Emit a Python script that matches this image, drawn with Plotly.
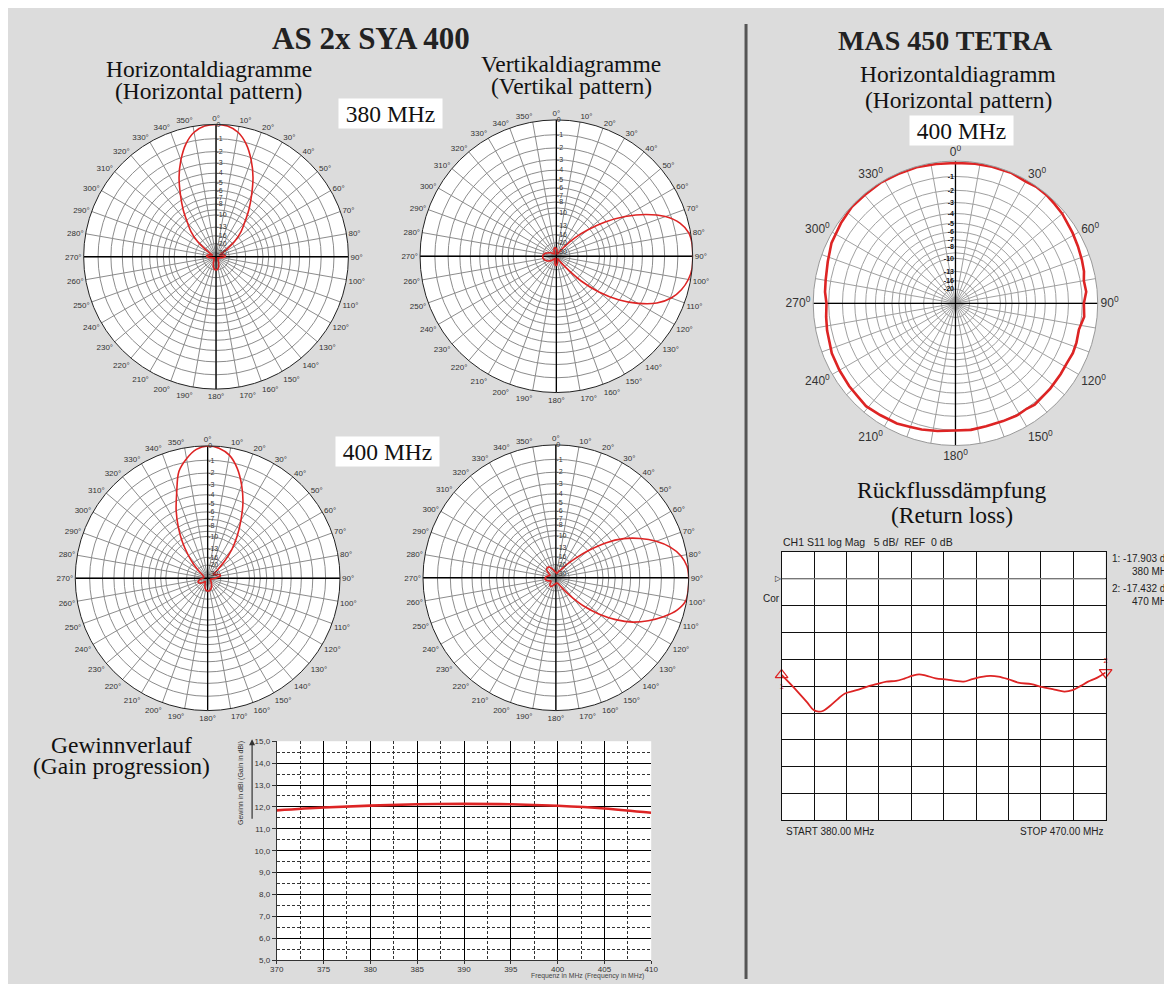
import plotly.graph_objects as go

# the browser body keeps its default 8px margin, so the figure is sized to fit inside it
OFF = 8
W, H = 1172 - 2 * OFF, 992 - 2 * OFF
def px(x): return (x - OFF) / W
def py(y): return 1 - (y - OFF) / H

# ---------------- DATA ----------------
angles = list(range(0, 360, 5))

h380_db = [0, -0.08, -0.4, -1.1, -2.2, -3.6, -5.4, -7.3, -9.5, -11.5, -14.5, -20, -26, -30, -28, -25,
           -23.5, -23, -23.5, -25, -28, -31, -32, -34, -36, -36, -35, -34, -33, -31.5, -30, -27,
           -24.5, -22.5, -21, -20.2, -20, -20.2, -21, -22.5, -24.5, -27, -30, -31.5, -33, -34, -35, -36,
           -36, -34, -32, -31, -28, -25, -23.5, -23, -23.5, -25, -28, -30, -26, -20,
           -14.5, -11.5, -9.5, -7.3, -5.4, -3.6, -2.2, -1.1, -0.4, -0.08]

v380_db = [-25, -27, -30, -33, -35, -34, -31, -27, -20.5, -14.5, -10.5, -7.2, -4.7, -2.8, -1.4, -0.55,
           -0.12, 0, 0, 0, -0.15, -0.45, -0.95, -1.8, -3.2, -5.1, -7.8, -11.8, -19, -27, -32, -34,
           -33, -30, -27, -24.5, -23.5, -23.5, -25, -28, -32, -35, -34, -32, -30, -28, -26, -24.5,
           -23, -22, -21.2, -20.6, -20.2, -20, -20, -20.2, -20.8, -21.6, -23, -24.5, -26, -28,
           -30, -32, -33, -33, -31, -28, -26, -24.5, -24, -24]

h400_db = [0, -0.12, -0.5, -1.3, -2.5, -4.0, -6.0, -8.2, -10.9, -15, -20.5, -25, -26, -24, -21.5, -20.2,
           -20.3, -22, -24.5, -27, -30, -32, -33, -33, -32.5, -31.5, -30.5, -29, -27.5, -26, -24.5, -23,
           -22, -21.2, -20.6, -20.3, -20.3, -20.6, -21.2, -22.5, -24.5, -27, -29, -30, -29.5, -27.5, -25.5, -23.8,
           -22.8, -22.3, -22.3, -23, -24.5, -26.5, -28.5, -30, -31, -31, -30, -29, -28, -25.5,
           -21, -16.5, -12.8, -9.6, -7.1, -5.0, -3.3, -1.55, -0.75, -0.2]

v400_db = [-28, -29, -30, -29, -27, -25, -24, -21, -17.5, -13.8, -10, -6.8, -4.6, -3.1, -1.9, -1.0,
           -0.4, -0.08, 0, 0, -0.06, -0.5, -1.3, -2.3, -3.5, -5.2, -7.4, -10.2, -14, -18, -22, -25,
           -26.5, -27.5, -28, -28, -27, -26.5, -26, -25, -24, -23, -22.5, -22.5, -23, -24.5, -26, -27,
           -26.5, -25, -23.5, -22.5, -22, -21.8, -22, -22.5, -23.5, -25, -26.5, -26, -24.5, -22.5,
           -21, -20.3, -20, -20.2, -20.8, -22, -23.5, -25, -26.5, -27.5]

mas_angles = [0, 8, 15, 23, 30, 35, 40, 45, 50, 55, 59, 65, 71, 76, 80, 85, 90, 96, 102, 108, 113,
              118, 124, 132, 142, 146, 151, 158, 166, 173, 180, 188, 195, 200, 206, 214, 221, 226,
              232, 240, 248, 258, 264, 270, 275, 280, 288, 296, 305, 313, 320, 328, 336, 344, 352]
mas_db = [-0.12, -0.08, -0.05, -0.02, -0.1, -0.03, -0.05, -0.12, -0.18, -0.3, -0.35, -0.45, -0.54,
          -0.62, -0.76, -0.7, -0.89, -0.82, -1.04, -0.97, -0.95, -1.02, -1.0, -0.95, -0.87, -0.97,
          -0.92, -0.98, -1.01, -0.95, -0.97, -0.85, -0.74, -0.68, -0.54, -0.47, -0.37, -0.45, -0.47,
          -0.52, -0.56, -0.7, -0.78, -0.85, -0.72, -0.66, -0.5, -0.27, -0.15, -0.04, -0.06, -0.02,
          -0.05, -0.05, -0.1]

grid_db = [0, -1, -2, -3, -4, -5, -6, -7, -8, -9, -10, -13, -16, -20, -30]
grid_lbl = ['0', '-1', '-2', '-3', '-4', '-5', '-6', '-7', '-8', '', '-10', '-13', '-16', '-20', '-30']
mas_grid_lbl = ['', '-1', '-2', '-3', '-4', '-5', '-6', '-7', '-8', '', '-10', '-13', '-16', '-20', '']

gain_freq = [370, 375, 380, 385, 390, 395, 400, 405, 410]
gain_dbi = [11.84, 11.97, 12.06, 12.12, 12.14, 12.12, 12.05, 11.93, 11.73]
gain_yticks = [5, 6, 7, 8, 9, 10, 11, 12, 13, 14, 15]
gain_ylabels = ['5,0', '6,0', '7,0', '8,0', '9,0', '10,0', '11,0', '12,0', '13,0', '14,0', '15,0']
gain_xticks = [370, 375, 380, 385, 390, 395, 400, 405, 410]

rl_freq = [380.0, 382.5, 384.8, 387.1, 388.9, 390.3, 391.6, 393.5, 395.8, 397.6, 400.8, 403.6, 406.3,
           409.1, 411.8, 414.1, 416.4, 418.2, 420.1, 422.8, 426.0, 428.3, 430.6, 432.9, 435.6, 437.9,
           440.2, 443.0, 445.7, 449.4, 452.1, 455.8, 458.5, 460.8, 463.1, 465.0, 467.7, 470.0]
rl_db = [-17.9, -19.63, -21.29, -23.02, -24.43, -24.74, -24.56, -23.63, -22.28, -21.35, -20.74, -20.12,
         -19.63, -19.14, -19.01, -18.58, -18.03, -17.78, -18.03, -18.52, -18.77, -19.01, -19.14, -18.7,
         -18.28, -18.09, -18.21, -18.7, -19.32, -19.63, -20.12, -20.62, -20.99, -20.74, -19.94, -19.2,
         -18.4, -17.43]
mk_freq = [380, 470]
mk_db = [-17.903, -17.432]

# ---------------- FIGURE ----------------
RED = '#dd2424'
SANS = 'Liberation Sans, Arial, sans-serif'
SERIF = 'Liberation Serif, Times New Roman, serif'

def to_r(db):
    return [10 ** (d / 20) for d in db]

fig = go.Figure()

small_polars = [
    ('polar', h380_db, 211.5, 255, 134),
    ('polar2', v380_db, 556, 254.5, 138),
    ('polar3', h400_db, 203, 579.5, 134),
    ('polar4', v400_db, 555.5, 579, 134.5),
]
polar_specs = {}
for name, db, cx, cy, rr in small_polars:
    fig.add_trace(go.Scatterpolar(r=[1, 0, 1], theta=[0, 0, 180], mode='lines', subplot=name,
                                  line=dict(color='black', width=1.3), hoverinfo='skip', showlegend=False))
    fig.add_trace(go.Scatterpolar(r=[1, 0, 1], theta=[90, 0, 270], mode='lines', subplot=name,
                                  line=dict(color='black', width=1.3), hoverinfo='skip', showlegend=False))
    fig.add_trace(go.Scatterpolar(r=to_r(db + [db[0]]), theta=angles + [360], mode='lines', subplot=name,
                                  line=dict(color=RED, width=1.6, shape='spline'), showlegend=False))
    polar_specs[name] = dict(
        domain=dict(x=[px(cx - rr), px(cx + rr)], y=[py(cy + rr), py(cy - rr)]),
        bgcolor='white',
        angularaxis=dict(direction='clockwise', rotation=90, tickmode='array',
                         tickvals=list(range(0, 360, 10)), ticktext=[f'{a}°' for a in range(0, 360, 10)],
                         tickfont=dict(family=SANS, size=8, color='#333'),
                         showline=True, linecolor='#222', linewidth=1, ticks='',
                         gridcolor='#8c8c8c', gridwidth=0.7),
        radialaxis=dict(range=[0, 1], tickmode='array', tickvals=to_r(grid_db), ticktext=grid_lbl,
                        angle=90, side='clockwise', tickangle=90, showline=False, ticks='',
                        gridcolor='#8c8c8c', gridwidth=0.7,
                        tickfont=dict(family=SANS, size=7, color='#333')),
    )

# MAS polar
fig.add_trace(go.Scatterpolar(r=[1, 0, 1], theta=[0, 0, 180], mode='lines', subplot='polar5',
                              line=dict(color='black', width=1.3), hoverinfo='skip', showlegend=False))
fig.add_trace(go.Scatterpolar(r=[1, 0, 1], theta=[90, 0, 270], mode='lines', subplot='polar5',
                              line=dict(color='black', width=1.3), hoverinfo='skip', showlegend=False))
fig.add_trace(go.Scatterpolar(r=to_r(mas_db + [mas_db[0]]), theta=mas_angles + [360], mode='lines',
                              subplot='polar5', line=dict(color=RED, width=2.6),
                              showlegend=False))
cx, cy, rr = 960, 302, 144
polar_specs['polar5'] = dict(
    domain=dict(x=[px(cx - rr), px(cx + rr)], y=[py(cy + rr), py(cy - rr)]),
    bgcolor='white',
    angularaxis=dict(direction='clockwise', rotation=90, tickmode='array',
                     tickvals=list(range(0, 360, 10)),
                     ticktext=[(f'{a}<sup>0</sup>' if a % 30 == 0 else '') for a in range(0, 360, 10)],
                     tickfont=dict(family=SANS, size=12, color='#333'),
                     showline=True, linecolor='#999', linewidth=1, ticks='',
                     gridcolor='#a0a0a0', gridwidth=0.7),
    radialaxis=dict(range=[0, 1], tickmode='array', tickvals=to_r(grid_db), ticktext=mas_grid_lbl,
                    angle=90, side='counterclockwise', tickangle=90, showline=False, ticks='',
                    gridcolor='#a0a0a0', gridwidth=0.7,
                    tickfont=dict(family=SANS, size=7, color='#111', weight='bold')),
)

# Gain chart
fig.add_trace(go.Scatter(x=gain_freq, y=gain_dbi, mode='lines', xaxis='x', yaxis='y',
                         line=dict(color=RED, width=2.6, shape='spline'), showlegend=False))

# Return loss chart
fig.add_trace(go.Scatter(x=rl_freq, y=rl_db, mode='lines', xaxis='x2', yaxis='y2',
                         line=dict(color=RED, width=1.8, shape='spline'), showlegend=False))
fig.add_trace(go.Scatter(x=mk_freq[:1], y=mk_db[:1], mode='markers+text', xaxis='x2', yaxis='y2',
                         marker=dict(symbol='triangle-up-open', size=11, color=RED, line=dict(width=1.3)),
                         text=['1'], textposition='bottom center', textfont=dict(size=8, color=RED),
                         cliponaxis=False, showlegend=False))
fig.add_trace(go.Scatter(x=mk_freq[1:], y=mk_db[1:], mode='markers+text', xaxis='x2', yaxis='y2',
                         marker=dict(symbol='triangle-down-open', size=11, color=RED, line=dict(width=1.3)),
                         text=['2'], textposition='top center', textfont=dict(size=8, color=RED),
                         cliponaxis=False, showlegend=False))

annotations = []
def txt(x, y, s, size, family=SANS, color='#111', xanchor='center', weight='normal', **kw):
    annotations.append(dict(x=px(x), y=py(y), xref='paper', yref='paper', text=s, showarrow=False,
                            xanchor=xanchor, yanchor='middle',
                            font=dict(family=family, size=size, color=color, weight=weight), **kw))

txt(368, 35, 'AS 2x SYA 400', 31, SERIF, '#222', weight='bold')
txt(950, 37, 'MAS 450 TETRA', 28, SERIF, '#222', weight='bold')
txt(204, 66, 'Horizontaldiagramme', 23.5, SERIF)
txt(204, 88, '(Horizontal pattern)', 23.5, SERIF)
txt(571, 60, 'Vertikaldiagramme', 23.5, SERIF)
txt(571, 83, '(Vertikal pattern)', 23.5, SERIF)
txt(963, 71, 'Horizontaldiagramm', 23.5, SERIF)
txt(963, 97, '(Horizontal pattern)', 23.5, SERIF)
txt(956, 490, 'Rückflussdämpfung', 23.5, SERIF)
txt(956, 516, '(Return loss)', 23.5, SERIF)
txt(116, 748, 'Gewinnverlauf', 23.5, SERIF)
txt(116, 769, '(Gain progression)', 23.5, SERIF)
for (x, y, s) in [(388.5, 110, '380 MHz'), (385, 452, '400 MHz'), (966, 127.5, '400 MHz')]:
    txt(x, y, s, 23.5, SERIF, bgcolor='white', width=103, height=29, borderpad=0)

# gain axis title + arrow
txt(237, 786, 'Gewinn in dBi (Gain in dBi)', 7, SANS, '#333', textangle=-90)
annotations.append(dict(x=px(248), y=py(742), xref='paper', yref='paper', text=' ', showarrow=True,
                        ax=0, ay=88, arrowhead=2, arrowsize=1, arrowwidth=1.2, arrowcolor='#333'))
txt(588, 980.5, 'Frequenz in MHz (Frequency in MHz)', 6.8, SANS, '#444')

# return loss texts
NB = '\u00a0'
txt(783, 543, f'CH1 S11 log Mag{NB*3}5 dB/{NB*2}REF{NB*2}0 dB', 10.5, SANS, '#222', xanchor='left')
txt(786, 835, 'START 380.00 MHz', 10, SANS, '#222', xanchor='left')
txt(1112, 835, 'STOP 470.00 MHz', 10, SANS, '#222', xanchor='right')
txt(763, 600, 'Cor', 10, SANS, '#222', xanchor='left')
txt(775, 580, '▷', 8, SANS, '#222', xanchor='left')
annotations.append(dict(x=px(1116), y=py(566), xref='paper', yref='paper', showarrow=False,
                        text=f'1: {mk_db[0]:.3f} dB<br>{mk_freq[0]} MHz', align='right',
                        xanchor='left', yanchor='middle', font=dict(family=SANS, size=10, color='#222')))
annotations.append(dict(x=px(1116), y=py(596), xref='paper', yref='paper', showarrow=False,
                        text=f'2: {mk_db[1]:.3f} dB<br>{mk_freq[1]} MHz', align='right',
                        xanchor='left', yanchor='middle', font=dict(family=SANS, size=10, color='#222')))

shapes = [
    dict(type='line', xref='paper', yref='paper', x0=px(748), x1=px(748), y0=0, y1=py(20),
         line=dict(color='#555', width=3)),
    dict(type='line', xref='x2', yref='y2', x0=380, x1=470, y0=0, y1=0,
         line=dict(color='#9a9a9a', width=1.2), layer='above'),
]

fig.update_layout(
    width=W, height=H, margin=dict(l=0, r=0, t=0, b=0),
    paper_bgcolor='#dcdcdc', plot_bgcolor='white', showlegend=False,
    font=dict(family=SANS),
    **polar_specs,
    xaxis=dict(domain=[px(273), px(652)], anchor='y', range=[370, 410], tickmode='array',
               tickvals=gain_xticks, ticktext=[str(v) for v in gain_xticks],
               tickfont=dict(family=SANS, size=8, color='#333'), ticklabelstandoff=-2,
               showgrid=True, gridcolor='black', gridwidth=1, zeroline=False,
               showline=True, linecolor='#333', linewidth=1, ticks='outside', ticklen=3, tickcolor='#333',
               minor=dict(tickvals=[372.5, 377.5, 382.5, 387.5, 392.5, 397.5, 402.5, 407.5],
                          showgrid=True, gridcolor='#333', griddash='3px,2px', gridwidth=0.7)),
    yaxis=dict(domain=[py(965), py(744)], anchor='x', range=[5, 15], tickmode='array',
               tickvals=gain_yticks, ticktext=gain_ylabels,
               tickfont=dict(family=SANS, size=8, color='#333'),
               showgrid=True, gridcolor='black', gridwidth=1, zeroline=False,
               showline=True, linecolor='#333', linewidth=1, ticks='outside', ticklen=4, tickcolor='#333',
               minor=dict(tickvals=[5.5, 6.5, 7.5, 8.5, 9.5, 10.5, 11.5, 12.5, 13.5, 14.5],
                          showgrid=True, gridcolor='#333', griddash='3px,2px', gridwidth=0.7)),
    xaxis2=dict(domain=[px(784), px(1112)], anchor='y2', range=[380, 470], tickmode='linear',
                tick0=380, dtick=9, showticklabels=False, ticks='',
                showgrid=True, gridcolor='#111', gridwidth=1.2, zeroline=False,
                showline=True, mirror=True, linecolor='#111', linewidth=1.4),
    yaxis2=dict(domain=[py(824), py(553)], anchor='x2', range=[-45, 5], tickmode='linear',
                tick0=-45, dtick=5, showticklabels=False, ticks='',
                showgrid=True, gridcolor='#111', gridwidth=1.2, zeroline=False,
                showline=True, mirror=True, linecolor='#111', linewidth=1.4),
    annotations=annotations,
    shapes=shapes,
)

fig.write_html('out.html', config={'displayModeBar': False})
